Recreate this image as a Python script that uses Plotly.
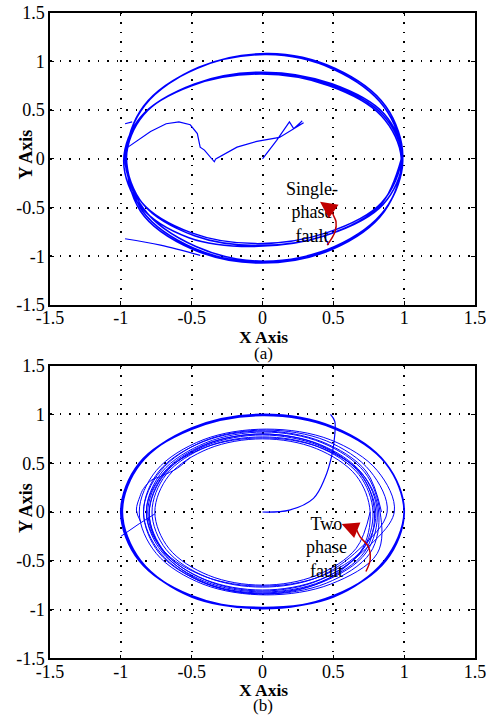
import plotly.graph_objects as go

# ---------------- data ----------------
TICK_VALS = [-1.5, -1, -0.5, 0, 0.5, 1, 1.5]
TICK_TEXT = ["-1.5", "-1", "-0.5", "0", "0.5", "1", "1.5"]

# Panel (a): single-phase fault
A_START_X = [0.0, 0.10, 0.19, 0.22, 0.28, 0.24, 0.29, 0.12, -0.04, -0.18, -0.33, -0.34,
             -0.41, -0.44, -0.46, -0.51, -0.59, -0.68, -0.79, -0.96]
A_START_Y = [0.0, 0.19, 0.38, 0.31, 0.39, 0.33, 0.37, 0.22, 0.18, 0.12, 0.0, -0.03,
             0.09, 0.12, 0.26, 0.35, 0.38, 0.36, 0.28, 0.11]

A_LOOP_X = [-0.97, -0.85, -0.48, 0.00, 0.50, 0.86, 0.99,
            0.85, 0.48, 0.00, -0.49, -0.85, -0.97,
            -0.85, -0.50, -0.05, 0.45, 0.84, 0.98,
            0.86, 0.50, 0.03, -0.46, -0.84, -0.96,
            -0.84, -0.47, 0.01, 0.51, 0.87, 0.99,
            0.86, 0.49, 0.01, -0.48, -0.84, -0.96,
            -0.84, -0.48, -0.04, 0.46, 0.85, 0.99,
            0.87, 0.51, 0.04, -0.45, -0.83, -0.96,
            -0.86, -0.49, -0.01, 0.49, 0.86, 0.98,
            0.84, 0.47, -0.01, -0.50, -0.86, -0.98,
            -0.86, -0.52, -0.07, 0.44, 0.83, 0.98]
A_LOOP_Y = [0.02, -0.53, -0.92, -1.06, -0.92, -0.53, 0.00,
            0.45, 0.76, 0.88, 0.76, 0.44, 0.00,
            -0.45, -0.76, -0.87, -0.76, -0.45, 0.02,
            0.53, 0.92, 1.07, 0.93, 0.54, 0.03,
            -0.51, -0.90, -1.05, -0.90, -0.51, 0.01,
            0.46, 0.77, 0.89, 0.77, 0.45, 0.01,
            -0.47, -0.79, -0.89, -0.78, -0.47, 0.00,
            0.54, 0.93, 1.08, 0.94, 0.55, 0.05,
            -0.54, -0.93, -1.07, -0.93, -0.54, 0.00,
            0.44, 0.75, 0.87, 0.75, 0.43, -0.02,
            -0.49, -0.81, -0.90, -0.79, -0.48, 0.00]

A_STUB_X = [-0.97, -0.92]
A_STUB_Y = [0.36, 0.38]
A_TAIL_X = [-0.97, -0.72, -0.44]
A_TAIL_Y = [-0.82, -0.885, -0.99]
A_HOOK_X = [0.434, 0.467]
A_HOOK_Y = [-0.79, -0.885]

A_ARROW_X = [0.457, 0.512, 0.519, 0.50, 0.488]
A_ARROW_Y = [-0.885, -0.748, -0.645, -0.577, -0.526]
A_ARROW_TIP = (0.406, -0.44)
A_LABEL = "Single-<br>phase<br>fault"
A_LABEL_POS = (0.35, -0.546)

# Panel (b): two-phase fault
B_START_X = [0.0, 0.19, 0.36, 0.44, 0.49, 0.51, 0.51, 0.48]
B_START_Y = [0.0, 0.02, 0.14, 0.345, 0.585, 0.79, 0.93, 1.0]

B_OUTER_X = [1.0, 0.87, 0.5, 0.0, -0.5, -0.87, -1.0, -0.87, -0.5, 0.0, 0.5, 0.87, 1.0,
             0.87, 0.5, 0.0, -0.5, -0.86, -0.99, -0.86, -0.5, 0.0, 0.5, 0.86, 1.0]
B_OUTER_Y = [0.0, 0.5, 0.86, 0.99, 0.85, 0.5, 0.0, -0.5, -0.86, -0.99, -0.86, -0.5, 0.0,
             0.5, 0.87, 1.0, 0.86, 0.5, 0.01, -0.5, -0.87, -0.98, -0.87, -0.5, 0.0]

B_INNER_X = [0.84, 0.73, 0.42, 0.0, -0.42, -0.73, -0.84, -0.73, -0.42, 0.0, 0.42, 0.73,
             0.81, 0.70, 0.41, 0.0, -0.41, -0.70, -0.81, -0.70, -0.41, 0.0, 0.41, 0.70,
             0.78, 0.68, 0.39, 0.0, -0.39, -0.68, -0.78, -0.68, -0.39, 0.0, 0.39, 0.68,
             0.88, 0.76, 0.45, 0.02, -0.41, -0.72, -0.84, -0.72, -0.41, 0.02, 0.45, 0.76,
             0.82, 0.71, 0.41, 0.0, -0.41, -0.71, -0.82, -0.71, -0.41, 0.0, 0.41, 0.71,
             0.80, 0.69, 0.40, 0.0, -0.40, -0.69, -0.80, -0.69, -0.40, 0.0, 0.40, 0.69,
             0.93, 0.81, 0.48, 0.03, -0.42, -0.75, -0.87, -0.75, -0.42, 0.03, 0.48, 0.81,
             0.83, 0.72, 0.42, 0.01, -0.40, -0.71, -0.82, -0.71, -0.41, 0.01, 0.42, 0.72,
             0.79, 0.69, 0.40, 0.0, -0.40, -0.69, -0.80, -0.69, -0.40, 0.0, 0.40, 0.69,
             0.76, 0.66, 0.38, 0.0, -0.38, -0.66, -0.76, -0.66, -0.38, 0.0, 0.38, 0.66, 0.76]
B_INNER_Y = [0.0, 0.42, 0.72, 0.83, 0.72, 0.42, 0.0, -0.42, -0.72, -0.83, -0.72, -0.42,
             0.0, 0.40, 0.69, 0.80, 0.69, 0.40, 0.0, -0.40, -0.69, -0.80, -0.69, -0.40,
             0.0, 0.385, 0.67, 0.77, 0.67, 0.385, 0.0, -0.385, -0.67, -0.77, -0.67, -0.385,
             0.0, 0.42, 0.73, 0.84, 0.73, 0.42, 0.0, -0.42, -0.73, -0.84, -0.73, -0.42,
             0.0, 0.38, 0.66, 0.76, 0.66, 0.38, 0.0, -0.38, -0.66, -0.76, -0.66, -0.38,
             -0.02, 0.39, 0.69, 0.80, 0.69, 0.39, -0.02, -0.43, -0.73, -0.84, -0.73, -0.43,
             0.0, 0.425, 0.74, 0.85, 0.74, 0.425, 0.0, -0.425, -0.74, -0.85, -0.74, -0.425,
             0.0, 0.41, 0.71, 0.82, 0.71, 0.41, 0.0, -0.41, -0.71, -0.82, -0.71, -0.41,
             0.0, 0.40, 0.68, 0.79, 0.68, 0.40, -0.01, -0.41, -0.70, -0.81, -0.70, -0.41,
             0.0, 0.375, 0.65, 0.75, 0.65, 0.375, 0.0, -0.375, -0.65, -0.75, -0.65, -0.375, 0.0]

B_STUB_X = [-1.0, -0.87, -0.76]
B_STUB_Y = [-0.25, -0.12, -0.02]
B_CURL_X = [-0.86, -0.89, -0.865, -0.84, -0.78, -0.71, -0.60, -0.51]
B_CURL_Y = [-0.10, 0.02, 0.16, 0.24, 0.33, 0.37, 0.45, 0.56]

B_ARROW_X = [0.73, 0.76, 0.747, 0.688, 0.665]
B_ARROW_Y = [-0.61, -0.49, -0.356, -0.253, -0.185]
B_ARROW_TIP = (0.559, -0.123)
B_LABEL = "Two<br>phase<br>fault"
B_LABEL_POS = (0.45, -0.36)

BLUE = "#0000ff"
RED = "#c00000"
FONT = "Liberation Serif"

fig = go.Figure()


def line(x, y, xa, ya, color=BLUE, width=1.2, shape="linear"):
    fig.add_trace(go.Scatter(x=x, y=y, xaxis=xa, yaxis=ya, mode="lines",
                             line=dict(color=color, width=width, shape=shape,
                                       smoothing=1.0),
                             hoverinfo="skip", showlegend=False))


# panel (a)
line(A_LOOP_X, A_LOOP_Y, "x", "y", width=1.5, shape="spline")
line(A_START_X, A_START_Y, "x", "y", width=1.2)
line(A_STUB_X, A_STUB_Y, "x", "y", width=1.2)
line(A_TAIL_X, A_TAIL_Y, "x", "y", width=1.2, shape="spline")
line(A_HOOK_X, A_HOOK_Y, "x", "y", width=1.2)
line(A_ARROW_X, A_ARROW_Y, "x", "y", color=RED, width=1.5, shape="spline")

# panel (b)
line(B_OUTER_X, B_OUTER_Y, "x2", "y2", width=1.8, shape="spline")
line(B_INNER_X, B_INNER_Y, "x2", "y2", width=1.0, shape="spline")
line(B_START_X, B_START_Y, "x2", "y2", width=1.2, shape="spline")
line(B_STUB_X, B_STUB_Y, "x2", "y2", width=1.0)
line(B_CURL_X, B_CURL_Y, "x2", "y2", width=1.0, shape="spline")
line(B_ARROW_X, B_ARROW_Y, "x2", "y2", color=RED, width=1.5, shape="spline")

axis_common = dict(range=[-1.5, 1.5], tickvals=TICK_VALS, ticktext=TICK_TEXT,
                   showline=True, linecolor="black", linewidth=1.5, mirror="ticks",
                   ticks="inside", ticklen=4, tickwidth=1, tickcolor="black",
                   showgrid=True, gridcolor="black", gridwidth=1.5, griddash="1.5px,8px",
                   zeroline=False, tickfont=dict(family=FONT, size=18, color="black"),
                   fixedrange=True, automargin=False)

XD = [50 / 490, 475 / 490]
YD_A = [1 - 305 / 715, 1 - 12.7 / 715]
YD_B = [1 - 658.3 / 715, 1 - 365.7 / 715]


def py(p):
    return 1 - p / 715


ann = []
# fault labels
for (tx, ty), txt, xr, yr in [(A_LABEL_POS, A_LABEL, "x", "y"), (B_LABEL_POS, B_LABEL, "x2", "y2")]:
    ann.append(dict(x=tx, y=ty, xref=xr, yref=yr, text=txt, showarrow=False,
                    xanchor="center", yanchor="middle",
                    font=dict(family=FONT, size=18, color="black"), align="center"))
# arrow heads
for xs, ys, tip, xr, yr in [(A_ARROW_X, A_ARROW_Y, A_ARROW_TIP, "x", "y"),
                            (B_ARROW_X, B_ARROW_Y, B_ARROW_TIP, "x2", "y2")]:
    ann.append(dict(x=tip[0], y=tip[1], ax=xs[-1], ay=ys[-1], xref=xr, yref=yr,
                    axref=xr, ayref=yr, text="", showarrow=True, arrowhead=2,
                    arrowsize=2.1, arrowwidth=1.6, arrowcolor=RED))
# axis titles and panel labels
xc = 263 / 490
for p_xt, p_lab, lab, p_yt in [(336.5, 353.5, "(a)", 155), (689.5, 705, "(b)", 508.5)]:
    ann.append(dict(x=xc, y=py(p_xt), xref="paper", yref="paper", text="<b>X Axis</b>",
                    xanchor="center", yanchor="middle",
                    showarrow=False, font=dict(family=FONT, size=17.5, color="black")))
    ann.append(dict(x=xc, y=py(p_lab), xref="paper", yref="paper", text=lab,
                    xanchor="center", yanchor="middle",
                    showarrow=False, font=dict(family=FONT, size=17, color="black")))
    ann.append(dict(x=25.5 / 490, y=py(p_yt), xref="paper", yref="paper",
                    xanchor="center", yanchor="middle",
                    text="<b>Y Axis</b>", textangle=-90, showarrow=False,
                    font=dict(family=FONT, size=18, color="black")))

fig.update_layout(
    template="none",
    width=490, height=715,
    margin=dict(l=0, r=0, t=0, b=0, pad=0, autoexpand=False),
    paper_bgcolor="white", plot_bgcolor="white",
    showlegend=False,
    xaxis=dict(domain=XD, anchor="y", ticklabelstandoff=-4, **axis_common),
    yaxis=dict(domain=YD_A, anchor="x", **axis_common),
    xaxis2=dict(domain=XD, anchor="y2", ticklabelstandoff=-4, **axis_common),
    yaxis2=dict(domain=YD_B, anchor="x2", **axis_common),
    annotations=ann,
)

fig.write_html("out.html", config={"displayModeBar": False},
               post_script="document.body.style.margin='0';document.body.style.overflow='hidden';")
